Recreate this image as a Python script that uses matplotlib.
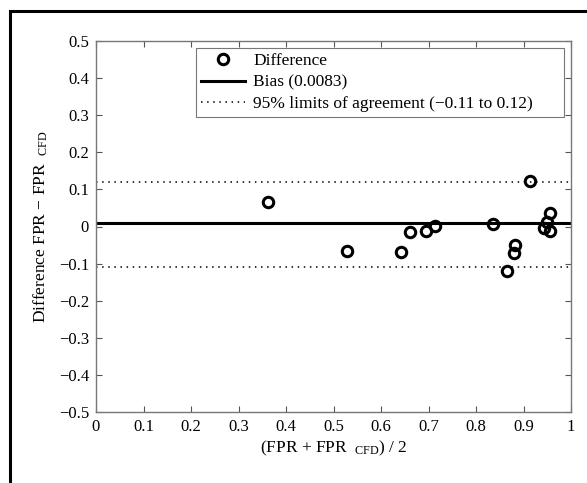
import matplotlib.pyplot as plt
from matplotlib.patches import Rectangle

# valores (Bland-Altman)
mean_fpr = [0.363, 0.529, 0.642, 0.662, 0.695, 0.713, 0.835, 0.866,
            0.882, 0.880, 0.913, 0.943, 0.950, 0.956, 0.956]
diff_fpr = [0.066, -0.065, -0.068, -0.016, -0.011, 0.001, 0.006, -0.120,
            -0.049, -0.072, 0.122, -0.003, 0.012, 0.036, -0.013]
bias = 0.0083
loa_low = -0.108
loa_high = 0.120
x_ticks = [0, 0.1, 0.2, 0.3, 0.4, 0.5, 0.6, 0.7, 0.8, 0.9, 1]
y_ticks = [-0.5, -0.4, -0.3, -0.2, -0.1, 0, 0.1, 0.2, 0.3, 0.4, 0.5]

plt.rcParams['font.family'] = ['Liberation Serif', 'DejaVu Serif']
plt.rcParams['mathtext.fontset'] = 'custom'
plt.rcParams['mathtext.rm'] = 'Liberation Serif'
plt.rcParams['mathtext.it'] = 'Liberation Serif:italic'

fig = plt.figure(figsize=(5.87, 4.83), dpi=100)
ax = fig.add_axes([96 / 587, 1 - 412 / 483, 475 / 587, 371 / 483])

# moldura preta da figura (cortada à direita e embaixo)
fig.patches.append(Rectangle((10 / 587, -0.2), 1.2, 1.2 - 11 / 483, transform=fig.transFigure,
                             fill=False, edgecolor='black', linewidth=2.2))

ax.plot(mean_fpr, diff_fpr, 'o', markerfacecolor='none', markeredgecolor='black',
        markeredgewidth=2.2, markersize=7.5, linestyle='none', label='Difference')
ax.axhline(bias, color='black', linewidth=2.2, label='Bias (0.0083)')
ax.axhline(loa_low, color='black', linestyle=(0, (1, 3)), linewidth=1.1,
           label='95% limits of agreement (\u22120.11 to 0.12)')
ax.axhline(loa_high, color='black', linestyle=(0, (1, 3)), linewidth=1.1)

ax.set_xlim(0, 1)
ax.set_ylim(-0.5, 0.5)
ax.set_xticks(x_ticks)
ax.set_xticklabels([f'{t:g}' for t in x_ticks])
ax.set_yticks(y_ticks)
ax.set_yticklabels([f'{t:g}'.replace('-', '\u2212') for t in y_ticks])
ax.tick_params(direction='in', top=True, right=True, length=4, width=0.8,
               colors='#555555', labelcolor='black', labelsize=12, pad=5)
for s in ax.spines.values():
    s.set_color('#777777')
    s.set_linewidth(1.0)

ax.set_xlabel(r'(FPR + FPR$\ \ _{\rm CFD}$) / 2', fontsize=12.5, labelpad=3)
ax.set_ylabel(r'Difference FPR $-$ FPR$\ \ _{\rm CFD}$', fontsize=12.5, labelpad=6)

# legenda esticada para a largura da caixa original
leg = ax.legend(loc='upper left', mode='expand', fontsize=12.5, frameon=True, fancybox=False,
                edgecolor='#555555', handlelength=2.5, handletextpad=0.5,
                borderpad=0.3, labelspacing=0.3, borderaxespad=0,
                bbox_to_anchor=(0.2105, 0.0, 0.7745, 0.981))
leg.get_frame().set_linewidth(0.8)

plt.savefig('out.png', dpi=100)
plt.close()
